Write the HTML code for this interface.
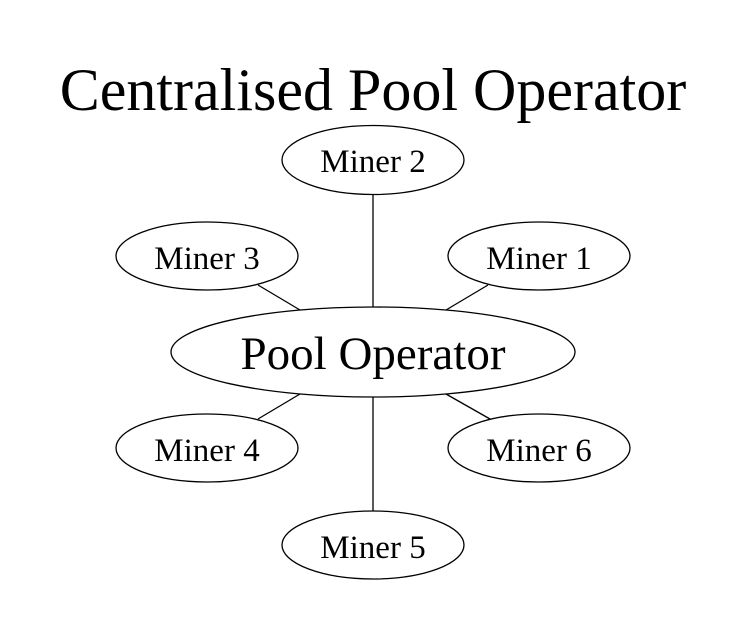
<!DOCTYPE html>
<html><head><style>body{margin:0;background:#fff}</style></head><body>
<svg width="746" height="626" xmlns="http://www.w3.org/2000/svg" font-family="'Liberation Serif',serif" fill="none" stroke="#000" stroke-width="1.3">
<rect width="746" height="626" fill="#fff" stroke="none"/>
<text x="373" y="110" font-size="60" text-anchor="middle" fill="#000" stroke="none">Centralised Pool Operator</text>
<line x1="373" y1="194" x2="373" y2="307"/>
<line x1="373" y1="397" x2="373" y2="511"/>
<line x1="258" y1="285" x2="300" y2="310"/>
<line x1="488" y1="285" x2="446" y2="310"/>
<line x1="300" y1="394" x2="258" y2="419"/>
<line x1="446" y1="394" x2="490" y2="419"/>
<ellipse cx="373" cy="352" rx="202" ry="45"/>
<ellipse cx="373" cy="160" rx="91" ry="34.5"/>
<ellipse cx="207" cy="256" rx="91" ry="34"/>
<ellipse cx="539" cy="256" rx="91" ry="34"/>
<ellipse cx="207" cy="448" rx="91" ry="34"/>
<ellipse cx="539" cy="448" rx="91" ry="34"/>
<ellipse cx="373" cy="545" rx="91" ry="34"/>
<g fill="#000" stroke="none" text-anchor="middle" font-size="33">
<text x="373" y="369" font-size="47">Pool Operator</text>
<text x="373" y="172">Miner 2</text>
<text x="207" y="269">Miner 3</text>
<text x="539" y="269">Miner 1</text>
<text x="207" y="461">Miner 4</text>
<text x="539" y="461">Miner 6</text>
<text x="373" y="558">Miner 5</text>
</g>
</svg>
</body></html>
